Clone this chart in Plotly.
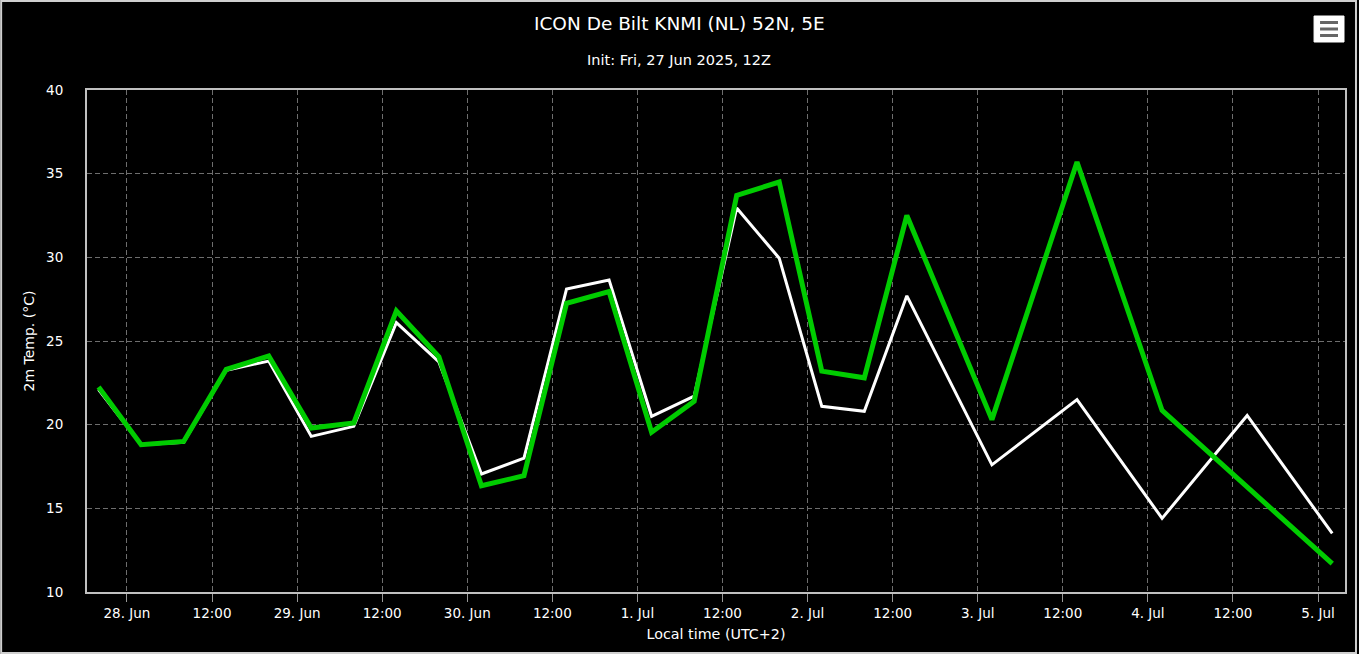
import plotly.graph_objects as go

times = [
    "2025-06-27 20:00", "2025-06-28 02:00", "2025-06-28 08:00", "2025-06-28 14:00",
    "2025-06-28 20:00", "2025-06-29 02:00", "2025-06-29 08:00", "2025-06-29 14:00",
    "2025-06-29 20:00", "2025-06-30 02:00", "2025-06-30 08:00", "2025-06-30 14:00",
    "2025-06-30 20:00", "2025-07-01 02:00", "2025-07-01 08:00", "2025-07-01 14:00",
    "2025-07-01 20:00", "2025-07-02 02:00", "2025-07-02 08:00", "2025-07-02 14:00",
    "2025-07-03 02:00", "2025-07-03 14:00", "2025-07-04 02:00", "2025-07-04 14:00",
    "2025-07-05 02:00",
]
temp_white = [22.1, 18.8, 18.95, 23.25, 23.8, 19.3, 19.9, 26.1, 23.75, 17.05, 18.0, 28.1,
              28.65, 20.5, 21.7, 32.95, 29.95, 21.1, 20.8, 27.7, 17.6, 21.5, 14.4, 20.55, 13.5]
temp_green = [22.25, 18.8, 19.0, 23.3, 24.1, 19.8, 20.1, 26.8, 24.05, 16.35, 16.95, 27.25,
              27.95, 19.55, 21.4, 33.7, 34.5, 23.2, 22.8, 32.5, 20.3, 35.7, 20.85, None, 11.7]

tick_vals = [
    "2025-06-28 00:00", "2025-06-28 12:00", "2025-06-29 00:00", "2025-06-29 12:00",
    "2025-06-30 00:00", "2025-06-30 12:00", "2025-07-01 00:00", "2025-07-01 12:00",
    "2025-07-02 00:00", "2025-07-02 12:00", "2025-07-03 00:00", "2025-07-03 12:00",
    "2025-07-04 00:00", "2025-07-04 12:00", "2025-07-05 00:00",
]
tick_text = ["28. Jun", "12:00", "29. Jun", "12:00", "30. Jun", "12:00", "1. Jul", "12:00",
             "2. Jul", "12:00", "3. Jul", "12:00", "4. Jul", "12:00", "5. Jul"]

FONT = "DejaVu Sans"

fig = go.Figure()
fig.add_trace(go.Scatter(x=times, y=temp_white, mode="lines",
                         line=dict(color="#ffffff", width=3), hoverinfo="x+y"))
fig.add_trace(go.Scatter(x=times, y=temp_green, mode="lines", connectgaps=True,
                         line=dict(color="#00cc00", width=5), hoverinfo="x+y"))

L, R, T, B = 87, 12, 90, 62
W, H = 1359, 654
pw, ph = W - L - R, H - T - B

def px(x):
    return (x - L) / pw

def py(y):
    return (H - B - y) / ph

shapes = [
    # page border
    dict(type="rect", xref="paper", yref="paper", x0=px(1), x1=px(W - 1), y0=py(H - 1), y1=py(1),
         line=dict(color="#cfcfcf", width=2), layer="below"),
    # menu button
    dict(type="rect", xref="paper", yref="paper", x0=px(1316), x1=px(1346), y0=py(42), y1=py(16),
         fillcolor="#ffffff", line=dict(color="#ffffff", width=1)),
]
for yy in (22.5, 29, 35.5):
    shapes.append(dict(type="line", xref="paper", yref="paper", x0=px(1322), x1=px(1340),
                       y0=py(yy), y1=py(yy), line=dict(color="#666666", width=3)))

GRID = "#6e6e6e"

fig.update_layout(
    width=W, height=H,
    paper_bgcolor="#000000", plot_bgcolor="#000000",
    margin=dict(l=L, r=R, t=T, b=B),
    showlegend=False,
    font=dict(family=FONT, color="#ffffff", size=13),
    shapes=shapes,
    annotations=[
        dict(text="ICON De Bilt KNMI (NL) 52N, 5E", xref="paper", yref="paper",
             x=px(680), y=py(24), xanchor="center", yanchor="middle", showarrow=False,
             font=dict(size=18.5, color="#ffffff", family=FONT)),
        dict(text="Init: Fri, 27 Jun 2025, 12Z", xref="paper", yref="paper",
             x=px(680), y=py(60), xanchor="center", yanchor="middle", showarrow=False,
             font=dict(size=14.5, color="#ffffff", family=FONT)),
    ],
    xaxis=dict(
        type="date",
        range=["2025-06-27 18:22", "2025-07-05 03:48"],
        tickvals=tick_vals, ticktext=tick_text,
        ticks="outside", ticklen=8, tickcolor="#999999", tickwidth=1,
        showgrid=True, gridcolor=GRID, griddash="5px,3px", gridwidth=1,
        showline=True, linecolor="#c0c0c0", linewidth=2, mirror=True,
        zeroline=False,
        tickfont=dict(size=13.5, color="#ffffff"),
        title=dict(text="Local time (UTC+2)", font=dict(size=14.3, color="#ffffff"), standoff=9),
    ),
    yaxis=dict(
        range=[10, 40], dtick=5, tick0=10,
        showgrid=True, gridcolor=GRID, griddash="5px,3px", gridwidth=1,
        showline=True, linecolor="#c0c0c0", linewidth=2, mirror=True,
        zeroline=False, ticks="", ticklabelstandoff=19,
        tickfont=dict(size=13.5, color="#ffffff"),
        title=dict(text="2m Temp. (°C)", font=dict(size=14, color="#ffffff"), standoff=8),
    ),
)

fig.write_html("out.html", config={"displayModeBar": False},
               post_script="document.body.style.margin='0px';document.body.style.overflow='hidden';")
